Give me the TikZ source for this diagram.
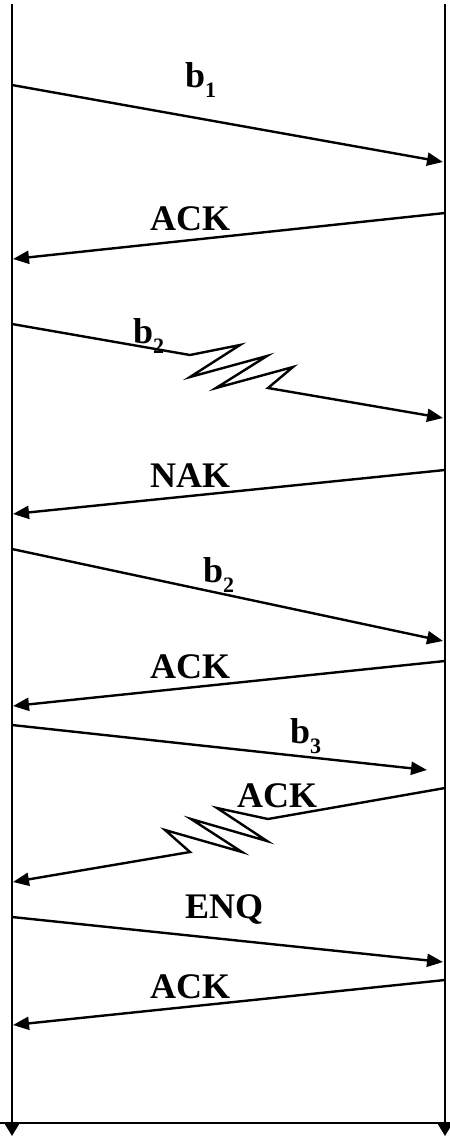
\documentclass[tikz,border=0pt]{standalone}
\usepackage{fontspec}
\setmainfont{Liberation Serif}
\usetikzlibrary{arrows.meta}
\newcommand\subdig[1]{\raisebox{-10pt}{\fontsize{22}{22}\selectfont #1}}
\begin{document}
\begin{tikzpicture}[x=1pt,y=-1pt,
  msg/.style={line width=2.4pt, -{Triangle[length=16pt,width=13pt]}, line join=miter},
  lbl/.style={font=\fontsize{36}{40}\selectfont\bfseries, inner sep=0pt, anchor=base west},
  life/.style={line width=2.4pt, -{Triangle[length=13pt,width=15pt]}}]
\useasboundingbox (0,0) rectangle (450,1136);
% lifelines
\coordinate (LT) at (12,4);
\coordinate (LB) at (12,1136);
\coordinate (RT) at (445,4);
\coordinate (RB) at (445,1136);
\coordinate (HL) at (0,1123);
\coordinate (HR) at (450,1123);
\draw[life] (LT) -- (LB);
\draw[life] (RT) -- (RB);
\draw[line width=2pt] (HL) -- (HR);
% endpoints
\coordinate (a1) at (12,85);   \coordinate (a2) at (443,162);
\coordinate (c1) at (445,213); \coordinate (c2) at (13,259);
\coordinate (d1) at (12,324);  \coordinate (d2) at (443,418);
\coordinate (n1) at (445,470); \coordinate (n2) at (13,514);
\coordinate (e1) at (12,549);  \coordinate (e2) at (443,641);
\coordinate (f1) at (445,661); \coordinate (f2) at (13,706);
\coordinate (g1) at (12,725);  \coordinate (g2) at (427,770);
\coordinate (h1) at (445,788); \coordinate (h2) at (13,882);
\coordinate (k1) at (12,917);  \coordinate (k2) at (443,962);
\coordinate (m1) at (445,980); \coordinate (m2) at (13,1025);
% messages
\draw[msg] (a1) -- (a2);
\draw[msg] (c1) -- (c2);
\draw[msg] (d1) -- (190,355) -- (240,345) -- (190,377) -- (267,356) -- (216,388) -- (293,367) -- (268,388) -- (d2);
\draw[msg] (n1) -- (n2);
\draw[msg] (e1) -- (e2);
\draw[msg] (f1) -- (f2);
\draw[msg] (g1) -- (g2);
\draw[msg] (h1) -- (268,819) -- (217,808) -- (267,841) -- (191,819) -- (242,852) -- (165,830) -- (190,852) -- (h2);
\draw[msg] (k1) -- (k2);
\draw[msg] (m1) -- (m2);
% labels
\node[lbl] (tb1) at (185,87) {b\subdig{1}};
\node[lbl] (tack1) at (150,230) {ACK};
\node[lbl] (tb2a) at (133,343) {b\subdig{2}};
\node[lbl] (tnak) at (150,487) {NAK};
\node[lbl] (tb2b) at (203,582) {b\subdig{2}};
\node[lbl] (tack2) at (150,678) {ACK};
\node[lbl] (tb3) at (290,743) {b\subdig{3}};
\node[lbl] (tack3) at (237,807) {ACK};
\node[lbl] (tenq) at (185,918) {ENQ};
\node[lbl] (tack4) at (150,998) {ACK};
\end{tikzpicture}
\end{document}
